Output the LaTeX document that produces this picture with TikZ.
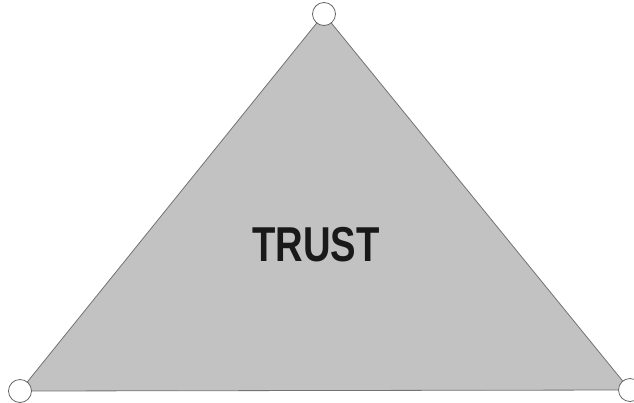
\documentclass[tikz,border=0pt]{standalone}
\usepackage{fontspec}
\setmainfont{Liberation Sans}
\newfontfamily\trustfont[FakeStretch=0.78]{Liberation Sans}
\usetikzlibrary{arrows}
\tikzset{corner/.style={circle,draw=black!60,fill=white,line width=0.8pt,minimum size=23pt,inner sep=0pt}}
\begin{document}
\begin{tikzpicture}[line cap=round,line join=round,x=1pt,y=-1pt]
		\useasboundingbox (0,0) rectangle (634,402);
		\coordinate (top) at (324,14);
		\coordinate (left) at (20,391);
		\coordinate (right) at (630,390);
		\filldraw [fill=black!24,draw=black!55,line width=0.8pt] (top) -- (left) -- (right) -- cycle;
		\node[font=\trustfont\bfseries\fontsize{49}{49}\selectfont,text=black!90] (trust) at (316,245) {TRUST};
		\node[corner] (ctop) at (top) {};
		\node[corner] (cleft) at (left) {};
		\node[corner] (cright) at (right) {};
	\end{tikzpicture}
\end{document}
